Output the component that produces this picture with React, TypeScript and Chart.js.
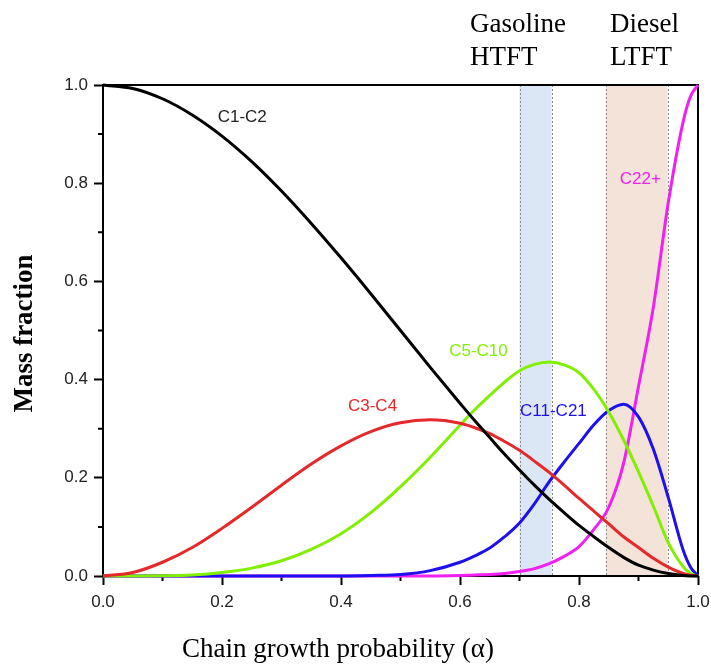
import React, { useEffect, useRef } from "react";
import { Chart, registerables } from "chart.js";

Chart.register(...registerables);

// Chain growth probability (alpha) sample points
const alpha = [
  0, 0.05, 0.1, 0.15, 0.2, 0.25, 0.3, 0.35, 0.4, 0.45, 0.5, 0.55, 0.6, 0.625, 0.65, 0.675, 0.7, 0.725, 0.75, 0.775, 0.8,
  0.825, 0.85, 0.875, 0.9, 0.925, 0.95, 0.975, 0.9875, 1.0,
];

// Mass fractions
const c1c2 = [
  1.0, 0.993, 0.972, 0.939, 0.896, 0.844, 0.784, 0.718, 0.648, 0.575, 0.5, 0.425, 0.352, 0.316, 0.282, 0.248, 0.216, 0.185, 0.156, 0.129, 0.103,
  0.08, 0.058, 0.038, 0.022, 0.012, 0.005, 0.001, 0.0002, 0,
];
const c3c4 = [
  0, 0.007, 0.028, 0.058, 0.097, 0.14, 0.185, 0.228, 0.265, 0.294, 0.312, 0.318, 0.311, 0.302, 0.29, 0.274, 0.256, 0.234, 0.211, 0.185, 0.158,
  0.132, 0.106, 0.08, 0.058, 0.036, 0.018, 0.005, 0.0015, 0,
];
const c5c10 = [
  0, 0, 0.0005, 0.002, 0.007, 0.016, 0.031, 0.054, 0.086, 0.129, 0.182, 0.242, 0.307, 0.339, 0.368, 0.395, 0.418, 0.431, 0.436, 0.43, 0.414,
  0.38, 0.334, 0.277, 0.212, 0.142, 0.068, 0.019, 0.005, 0,
];
const c11c21 = [
  0, 0, 0, 0, 0, 0, 0, 0, 0, 0.001, 0.003, 0.011, 0.028, 0.041, 0.057, 0.08, 0.108, 0.147, 0.192, 0.232, 0.27,
  0.308, 0.337, 0.35, 0.324, 0.258, 0.16, 0.053, 0.018, 0,
];
const c22plus = [
  0, 0, 0, 0, 0, 0, 0, 0, 0, 0, 0, 0, 0.001, 0.002, 0.003, 0.005, 0.009, 0.015, 0.025, 0.04, 0.06,
  0.095, 0.14, 0.23, 0.386, 0.548, 0.76, 0.925, 0.977, 1.0,
];

const seriesNames = ["C1-C2", "C3-C4", "C5-C10", "C11-C21", "C22+"];
const seriesValues = [c1c2, c3c4, c5c10, c11c21, c22plus];
const seriesColors = ["#000000", "#e5282a", "#80f000", "#1e0ff0", "#f020f0"];
// label anchor (data coords) for each curve label
const labelX = [0.234, 0.453, 0.631, 0.757, 0.903];
const labelY = [0.935, 0.346, 0.458, 0.336, 0.807];

// shaded regions
const bandNames = [["Gasoline", "HTFT"], ["Diesel", "LTFT"]];
const bandFrom = [0.7, 0.845];
const bandTo = [0.754, 0.949];
const bandColors = ["#dce7f5", "#f4e3d9"];

const xTitle = "Chain growth probability (\u03b1)";
const yTitle = "Mass fraction";

const SANS = "'Liberation Sans', Arial, sans-serif";
const SERIF = "'Liberation Serif', 'Times New Roman', serif";

const overlay = {
  id: "overlay",
  beforeDatasetsDraw(chart: any) {
    const { ctx, chartArea: a, scales } = chart;
    const x = scales.x;
    const y = scales.y;
    ctx.save();
    for (let i = 0; i < bandFrom.length; i++) {
      const x0 = x.getPixelForValue(bandFrom[i]);
      const x1 = x.getPixelForValue(bandTo[i]);
      ctx.fillStyle = bandColors[i];
      ctx.fillRect(x0, a.top, x1 - x0, a.bottom - a.top);
      ctx.strokeStyle = "#8a8a8a";
      ctx.lineWidth = 1;
      ctx.setLineDash([2, 2]);
      ctx.beginPath();
      ctx.moveTo(Math.round(x0) + 0.5, a.top);
      ctx.lineTo(Math.round(x0) + 0.5, a.bottom);
      ctx.moveTo(Math.round(x1) + 0.5, a.top);
      ctx.lineTo(Math.round(x1) + 0.5, a.bottom);
      ctx.stroke();
    }
    ctx.setLineDash([]);
    // frame
    ctx.strokeStyle = "#000";
    ctx.lineWidth = 2;
    ctx.strokeRect(a.left, a.top, a.right - a.left, a.bottom - a.top);
    // minor ticks
    ctx.beginPath();
    for (let v = 0.1; v < 1; v += 0.2) {
      const px = x.getPixelForValue(v);
      ctx.moveTo(px, a.bottom);
      ctx.lineTo(px, a.bottom + 5);
      const py = y.getPixelForValue(v);
      ctx.moveTo(a.left, py);
      ctx.lineTo(a.left - 5, py);
    }
    ctx.stroke();
    ctx.restore();
  },
  afterDatasetsDraw(chart: any) {
    const { ctx, chartArea: a, scales } = chart;
    const x = scales.x;
    const y = scales.y;
    ctx.save();
    // curve labels
    ctx.font = `17px ${SANS}`;
    ctx.textAlign = "center";
    ctx.textBaseline = "middle";
    for (let i = 0; i < seriesNames.length; i++) {
      ctx.fillStyle = i === 0 ? "#222" : seriesColors[i];
      ctx.fillText(seriesNames[i], x.getPixelForValue(labelX[i]), y.getPixelForValue(labelY[i]));
    }
    // region titles
    ctx.font = `27px ${SERIF}`;
    ctx.fillStyle = "#000";
    ctx.textAlign = "left";
    ctx.textBaseline = "alphabetic";
    const bandTextX = [470, 610];
    for (let i = 0; i < bandNames.length; i++) {
      ctx.fillText(bandNames[i][0], bandTextX[i], 32);
      ctx.fillText(bandNames[i][1], bandTextX[i], 65);
    }
    // axis titles
    ctx.textAlign = "center";
    ctx.fillText(xTitle, 338, 657);
    ctx.save();
    ctx.translate(32, (a.top + a.bottom) / 2 + 3);
    ctx.rotate(-Math.PI / 2);
    ctx.font = `bold 27px ${SERIF}`;
    ctx.fillText(yTitle, 0, 0);
    ctx.restore();
    ctx.restore();
  },
};

export default function App() {
  const ref = useRef<HTMLCanvasElement>(null);
  useEffect(() => {
    if (!ref.current) return;
    const chart = new Chart(ref.current, {
      type: "line",
      data: {
        datasets: seriesNames.map((name, i) => ({
          label: name,
          data: alpha.map((a, j) => ({ x: a, y: seriesValues[i][j] })),
          borderColor: seriesColors[i],
          backgroundColor: seriesColors[i],
          borderWidth: 3,
          pointRadius: 0,
          fill: false,
          cubicInterpolationMode: "monotone" as const,
          clip: false as any,
        })),
      },
      options: {
        responsive: false,
        animation: false,
        layout: { padding: { top: 85, right: 13, left: 0, bottom: 0 } },
        plugins: { legend: { display: false }, tooltip: { enabled: false } },
        scales: {
          x: {
            type: "linear",
            min: 0,
            max: 1,
            afterFit(scale: any) {
              scale.height = 88;
              scale.paddingLeft = 0;
              scale.paddingRight = 0;
            },
            ticks: {
              stepSize: 0.2,
              padding: 7,
              color: "#222",
              font: { family: SANS, size: 17 },
              maxRotation: 0,
              callback: (v: any) => Number(v).toFixed(1),
            },
            grid: {
              drawOnChartArea: false,
              drawTicks: true,
              tickLength: 9,
              tickWidth: 2,
              tickColor: "#000",
            },
            border: { display: false },
          },
          y: {
            type: "linear",
            min: 0,
            max: 1,
            afterFit(scale: any) {
              scale.width = 103;
              scale.paddingTop = 0;
              scale.paddingBottom = 0;
            },
            ticks: {
              stepSize: 0.2,
              padding: 6,
              color: "#222",
              font: { family: SANS, size: 17 },
              callback: (v: any) => Number(v).toFixed(1),
            },
            grid: {
              drawOnChartArea: false,
              drawTicks: true,
              tickLength: 9,
              tickWidth: 2,
              tickColor: "#000",
            },
            border: { display: false },
          },
        },
      },
      plugins: [overlay],
    });
    return () => chart.destroy();
  }, []);
  return (
    <div style={{ position: "absolute", left: 0, top: 0, width: 711, height: 664, background: "#fff" }}>
      <canvas ref={ref} width={711} height={664} style={{ display: "block" }} />
    </div>
  );
}
